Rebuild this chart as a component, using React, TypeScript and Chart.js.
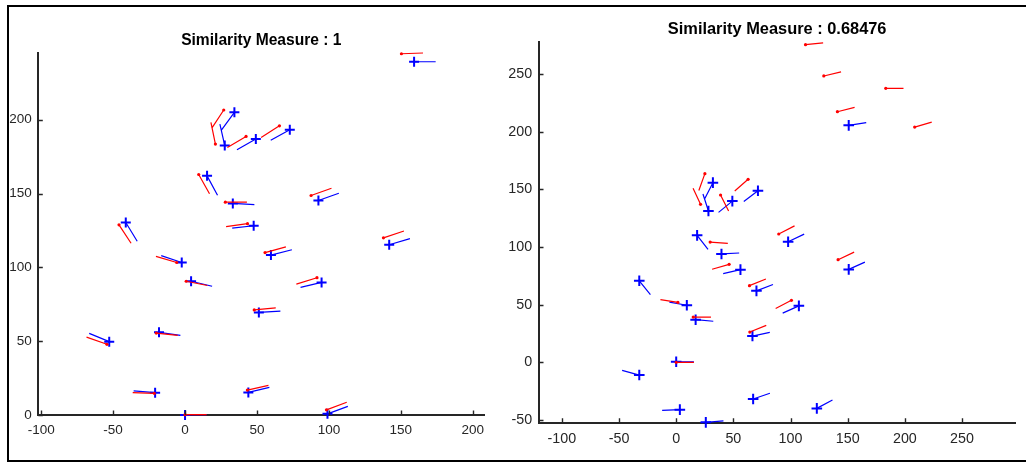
import React, { useEffect, useRef } from "react";
import { Chart, registerables } from "chart.js";

Chart.register(...registerables);

// ---------------- data ----------------
const leftTitle = "Similarity Measure : 1";
const rightTitle = "Similarity Measure : 0.68476";

const leftXTicks = [-100, -50, 0, 50, 100, 150, 200];
const leftYTicks = [0, 50, 100, 150, 200];
const rightXTicks = [-100, -50, 0, 50, 100, 150, 200, 250];
const rightYTicks = [-50, 0, 50, 100, 150, 200, 250];

// left panel – query minutiae (blue +)
const leftBlueX = [159.2, 34.3, 27.6, 49.2, 72.8, 15.3, 33.2, 92.7, 47.7, -41.2, 141.9, 59.7, -2.3, 4.2, 94.9, 51.3, -52.7, -18.1, -20.8, 44.0, 0, 99.0];
const leftBlueY = [239.3, 205.0, 182.5, 186.9, 193.2, 162.0, 143.3, 145.3, 128.2, 130.4, 115.3, 108.3, 103.3, 90.6, 89.8, 69.5, 49.7, 56.0, 15.1, 15.3, 0, 0.8];
const leftBlueAngle = [0, 233, 103, 209, 208, 299, 357, 19, 186, 302, 16, 14, 162, 347, 193, 3.5, 158, 352, 175, 13, 1, 19.5];

// left panel – template minutiae (red dot)
const leftRedX = [150.4, 26.9, 21.1, 42.4, 65.6, 9.5, 28.0, 87.6, 43.4, -45.9, 137.9, 55.6, -5.8, 0.8, 91.7, 48.1, -54.3, -20.0, -21.4, 43.3, 0, 98.3];
const leftRedY = [244.7, 206.6, 183.5, 188.7, 195.9, 162.9, 144.2, 148.7, 129.6, 128.8, 120.0, 110.0, 103.3, 90.6, 93.0, 71.2, 47.9, 55.5, 14.7, 16.9, 0.2, 3.5];
const leftRedAngle = [2, 236, 102, 210, 212, 300, 0, 19, 187.5, 304, 18, 15, 164, 349, 197, 5, 161, 354, 178, 12, 0, 20];

// right panel – query minutiae (blue +)
const rightBlueX = [150.9, 32.1, 28.2, 49.1, 71.5, 18.3, 39.6, 56.2, 97.9, 70.2, -32.3, 9.3, 107.3, 17.0, 66.7, 0, -32.3, 67.3, 3.2, 123.0, 25.9, 150.9];
const rightBlueY = [205.5, 155.8, 131.2, 139.8, 148.8, 110.1, 94.0, 80.4, 104.6, 62.0, 70.7, 49.5, 49.0, 37.0, 22.8, 0.5, -11.0, -31.8, -41.0, -39.9, -52.0, 80.6];
const rightBlueAngle = [9, 243, 108, 219, 217, 308, 3, 193, 25, 21, 309, 170, 204, 355, 12, 0, 165, 19, 182, 28, 5, 24];

// right panel – template minutiae (red dot)
const rightRedX = [113.1, 129.1, 183.3, 141.0, 208.6, 25.1, 21.3, 62.9, 38.8, 89.7, 29.7, 141.6, 46.3, 64.1, 1.5, 100.8, 14.9, 64.4, 0];
const rightRedY = [275.4, 248.3, 237.6, 217.3, 204.0, 163.6, 137.0, 158.7, 145.1, 111.3, 104.3, 89.0, 85.0, 66.5, 52.0, 53.8, 39.3, 26.3, 0];
const rightRedAngle = [6, 13, 0, 14, 16, 250, 115, 221, 297, 27, 356, 25, 196, 22, 171, 207, 0, 22, 0];

const leftSegLen = 15;
const rightSegLen = 15.5;

// ---------------- helpers ----------------
const RED = "#ff0000";
const BLUE = "#0000ff";
const AXIS = "#262626";
const FONT = "'Liberation Sans', Arial, Helvetica, sans-serif";

function points(xs: number[], ys: number[]) {
  return xs.map((x, i) => ({ x, y: ys[i] }));
}

function segments(xs: number[], ys: number[], angs: number[], len: number) {
  const out: { x: number; y: number | null }[] = [];
  xs.forEach((x, i) => {
    const a = (angs[i] * Math.PI) / 180;
    out.push({ x, y: ys[i] });
    out.push({ x: x + len * Math.cos(a), y: ys[i] + len * Math.sin(a) });
    out.push({ x, y: null });
  });
  return out;
}

const inwardTicks = {
  id: "inwardTicks",
  afterDraw(chart: any) {
    const { ctx, chartArea, scales } = chart;
    ctx.save();
    ctx.strokeStyle = AXIS;
    ctx.lineWidth = 1.4;
    ctx.beginPath();
    for (const t of scales.x.ticks) {
      const px = Math.round(scales.x.getPixelForValue(t.value)) + 0.5;
      ctx.moveTo(px, chartArea.bottom);
      ctx.lineTo(px, chartArea.bottom - 4.5);
    }
    for (const t of scales.y.ticks) {
      const py = Math.round(scales.y.getPixelForValue(t.value)) + 0.5;
      ctx.moveTo(chartArea.left, py);
      ctx.lineTo(chartArea.left + 4.5, py);
    }
    ctx.stroke();
    ctx.restore();
  },
};

type Panel = {
  title: string;
  blueX: number[]; blueY: number[]; blueA: number[];
  redX: number[]; redY: number[]; redA: number[];
  segLen: number;
  xMin: number; xMax: number; yMin: number; yMax: number;
  xTicks: number[]; yTicks: number[];
};

type Look = {
  tickSize: number; titleSize: number;
  yAxisWidth: number; xAxisHeight: number; padRight: number;
  titlePadTop: number; titlePadBottom: number;
  xLabelPad: number; yLabelPad: number;
  plusRadius: number;
};

function buildConfig(p: Panel, l: Look): any {
  return {
    type: "line",
    data: {
      datasets: [
        {
          label: "template points",
          data: points(p.redX, p.redY),
          showLine: false,
          pointStyle: "circle",
          pointRadius: 1.6,
          pointBackgroundColor: RED,
          pointBorderColor: RED,
          pointBorderWidth: 0,
          order: 0,
          clip: false,
        },
        {
          label: "template directions",
          data: segments(p.redX, p.redY, p.redA, p.segLen),
          borderColor: RED,
          borderWidth: 1.2,
          pointRadius: 0,
          spanGaps: false,
          order: 1,
          clip: false,
        },
        {
          label: "query points",
          data: points(p.blueX, p.blueY),
          showLine: false,
          pointStyle: "cross",
          pointRadius: l.plusRadius,
          pointBorderColor: BLUE,
          pointBorderWidth: 2,
          order: 2,
          clip: false,
        },
        {
          label: "query directions",
          data: segments(p.blueX, p.blueY, p.blueA, p.segLen),
          borderColor: BLUE,
          borderWidth: 1.2,
          pointRadius: 0,
          spanGaps: false,
          order: 3,
          clip: false,
        },
      ],
    },
    options: {
      responsive: false,
      animation: false,
      layout: { padding: { left: 0, right: l.padRight, top: 0, bottom: 0 } },
      plugins: {
        legend: { display: false },
        tooltip: { enabled: false },
        title: {
          display: true,
          text: p.title,
          fullSize: false,
          color: "#000000",
          font: { family: FONT, size: l.titleSize, weight: "bold" },
          padding: { top: l.titlePadTop, bottom: l.titlePadBottom },
        },
      },
      scales: {
        x: {
          type: "linear",
          min: p.xMin,
          max: p.xMax,
          afterBuildTicks: (s: any) => {
            s.ticks = p.xTicks.map((v) => ({ value: v }));
          },
          afterFit: (s: any) => {
            s.height = l.xAxisHeight;
          },
          grid: { display: true, drawOnChartArea: false, drawTicks: false },
          border: { display: true, color: AXIS, width: 2 },
          ticks: {
            color: AXIS,
            font: { family: FONT, size: l.tickSize },
            padding: l.xLabelPad,
            maxRotation: 0,
            autoSkip: false,
          },
        },
        y: {
          type: "linear",
          min: p.yMin,
          max: p.yMax,
          afterBuildTicks: (s: any) => {
            s.ticks = p.yTicks.map((v) => ({ value: v }));
          },
          afterFit: (s: any) => {
            s.width = l.yAxisWidth;
          },
          grid: { display: true, drawOnChartArea: false, drawTicks: false },
          border: { display: true, color: AXIS, width: 2 },
          ticks: {
            color: AXIS,
            font: { family: FONT, size: l.tickSize },
            padding: l.yLabelPad,
            autoSkip: false,
          },
        },
      },
    },
    plugins: [inwardTicks],
  };
}

function PanelChart(props: { panel: Panel; look: Look; left: number; width: number; height: number }) {
  const ref = useRef<HTMLCanvasElement>(null);
  useEffect(() => {
    const chart = new Chart(ref.current as HTMLCanvasElement, buildConfig(props.panel, props.look));
    return () => chart.destroy();
  }, []);
  return (
    <canvas
      ref={ref}
      width={props.width}
      height={props.height}
      style={{ position: "absolute", left: props.left, top: 0, width: props.width, height: props.height }}
    />
  );
}

const leftPanel: Panel = {
  title: leftTitle,
  blueX: leftBlueX, blueY: leftBlueY, blueA: leftBlueAngle,
  redX: leftRedX, redY: leftRedY, redA: leftRedAngle,
  segLen: leftSegLen,
  xMin: -102, xMax: 208, yMin: 0, yMax: 245,
  xTicks: leftXTicks, yTicks: leftYTicks,
};

const rightPanel: Panel = {
  title: rightTitle,
  blueX: rightBlueX, blueY: rightBlueY, blueA: rightBlueAngle,
  redX: rightRedX, redY: rightRedY, redA: rightRedAngle,
  segLen: rightSegLen,
  xMin: -120, xMax: 296.6, yMin: -52.3, yMax: 277.5,
  xTicks: rightXTicks, yTicks: rightYTicks,
};

const leftLook: Look = {
  tickSize: 13.5, titleSize: 15.6,
  yAxisWidth: 38.3, xAxisHeight: 49, padRight: 28.7,
  titlePadTop: 31.5, titlePadBottom: 3.1,
  xLabelPad: 7.4, yLabelPad: 6.5,
  plusRadius: 5,
};

const rightLook: Look = {
  tickSize: 14.3, titleSize: 16.4,
  yAxisWidth: 49, xAxisHeight: 41.3, padRight: 10.7,
  titlePadTop: 19.8, titlePadBottom: 2.8,
  xLabelPad: 8, yLabelPad: 6.8,
  plusRadius: 5.3,
};

const frameLine = { position: "absolute" as const, background: "#000000" };

export default function App() {
  return (
    <div
      style={{
        position: "fixed",
        left: 0,
        top: 0,
        width: 1026,
        height: 464,
        overflow: "hidden",
        background: "#ffffff",
      }}
    >
      <div style={{ ...frameLine, left: 7, top: 5, width: 1019, height: 2 }} />
      <div style={{ ...frameLine, left: 7, top: 5, width: 2, height: 457 }} />
      <div style={{ ...frameLine, left: 7, top: 460, width: 1019, height: 2 }} />
      <PanelChart panel={leftPanel} look={leftLook} left={0} width={513} height={464} />
      <PanelChart panel={rightPanel} look={rightLook} left={490} width={536} height={464} />
    </div>
  );
}
